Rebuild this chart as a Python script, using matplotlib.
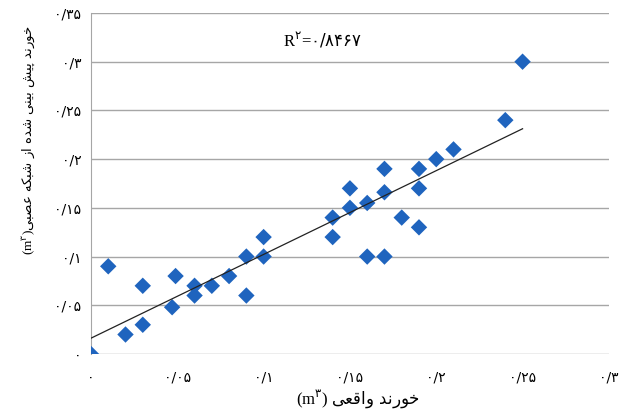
import numpy as np
import matplotlib.pyplot as plt

plt.rcParams['font.family'] = ['Liberation Serif', 'DejaVu Sans']
plt.rcParams['mathtext.fontset'] = 'custom'
plt.rcParams['mathtext.rm'] = 'DejaVu Sans'

# measured vs. predicted values (m3)
actual = [0.0, 0.01, 0.02, 0.03, 0.03, 0.047, 0.049, 0.06, 0.06, 0.07, 0.08,
          0.09, 0.09, 0.10, 0.10, 0.14, 0.14, 0.15, 0.15, 0.16, 0.16, 0.17,
          0.17, 0.17, 0.18, 0.19, 0.19, 0.19, 0.20, 0.21, 0.24, 0.25]
predicted = [0.0, 0.09, 0.02, 0.03, 0.07, 0.048, 0.08, 0.07, 0.06, 0.07, 0.08,
             0.10, 0.06, 0.10, 0.12, 0.14, 0.12, 0.17, 0.15, 0.155, 0.10, 0.166,
             0.19, 0.10, 0.14, 0.17, 0.13, 0.19, 0.20, 0.21, 0.24, 0.30]

x_ticks = [0, 0.05, 0.1, 0.15, 0.2, 0.25, 0.3]
x_ticklabels = ['۰', '۰/۰۵', '۰/۱', '۰/۱۵', '۰/۲', '۰/۲۵', '۰/۳']
y_ticks = [0, 0.05, 0.1, 0.15, 0.2, 0.25, 0.3, 0.35]
y_ticklabels = ['۰', '۰/۰۵', '۰/۱', '۰/۱۵', '۰/۲', '۰/۲۵', '۰/۳', '۰/۳۵']

x_title = 'خورند واقعی'
y_title = 'خورند پیش بینی شده از شبکه عصبی'
r2_text = '۰/۸۴۶۷'

# matplotlib has no arabic shaping, so pick contextual forms by hand
FORMS = {
    'خ': (0xFEA5, 0xFEA6, 0xFEA7, 0xFEA8),
    'ن': (0xFEE5, 0xFEE6, 0xFEE7, 0xFEE8),
    'پ': (0xFB56, 0xFB57, 0xFB58, 0xFB59),
    'ی': (0xFBFC, 0xFBFD, 0xFBFE, 0xFBFF),
    'ش': (0xFEB5, 0xFEB6, 0xFEB7, 0xFEB8),
    'ب': (0xFE8F, 0xFE90, 0xFE91, 0xFE92),
    'ه': (0xFEE9, 0xFEEA, 0xFEEB, 0xFEEC),
    'ک': (0xFB8E, 0xFB8F, 0xFB90, 0xFB91),
    'ع': (0xFEC9, 0xFECA, 0xFECB, 0xFECC),
    'ص': (0xFEB9, 0xFEBA, 0xFEBB, 0xFEBC),
    'ق': (0xFED5, 0xFED6, 0xFED7, 0xFED8),
    'و': (0xFEED, 0xFEEE),
    'ر': (0xFEAD, 0xFEAE),
    'د': (0xFEA9, 0xFEAA),
    'ا': (0xFE8D, 0xFE8E),
    'ز': (0xFEAF, 0xFEB0),
}


def shape(text):
    out = []
    for i, ch in enumerate(text):
        if ch not in FORMS:
            out.append(ch)
            continue
        prev = text[i - 1] if i > 0 else ''
        nxt = text[i + 1] if i + 1 < len(text) else ''
        joins_prev = prev in FORMS and len(FORMS[prev]) == 4
        joins_next = len(FORMS[ch]) == 4 and nxt in FORMS
        f = FORMS[ch]
        if joins_prev and joins_next:
            out.append(chr(f[3]))
        elif joins_next:
            out.append(chr(f[2]))
        elif joins_prev:
            out.append(chr(f[1]))
        else:
            out.append(chr(f[0]))
    return ''.join(reversed(out))


def persian_math(text):
    # strings with $...$ go through mathtext, so keep persian inside \mathrm
    return r'$\mathrm{' + shape(text).replace(' ', r'\ ') + '}$'


unit = r'(m$^{\mathrm{۳}}$)'

fig = plt.figure(figsize=(6.21, 4.12), dpi=100)
ax = fig.add_axes([0.1465, 0.1408, 0.834, 0.8277])

grid_color = '#a6a6a6'
ax.set_xlim(0, 0.3)
ax.set_ylim(0, 0.35)
ax.set_yticks(y_ticks)
ax.set_yticklabels(y_ticklabels, family='DejaVu Sans', fontsize=10)
ax.set_xticks(x_ticks)
ax.set_xticklabels(x_ticklabels, family='DejaVu Sans', fontsize=10)
ax.tick_params(length=0, pad=7)
ax.tick_params(axis='x', pad=12)
ax.yaxis.grid(True, color=grid_color, linewidth=1)
ax.set_axisbelow(True)
for side in ['top', 'right', 'bottom']:
    ax.spines[side].set_visible(False)
ax.spines['left'].set_color(grid_color)

ax.scatter(actual, predicted, marker='D', s=70, color='#1f64be',
           edgecolors='none', zorder=3)

# linear trend line across the data range
slope, intercept = np.polyfit(actual, predicted, 1)
xs = np.array([min(actual), max(actual)])
ax.plot(xs, slope * xs + intercept, color='#222222', linewidth=0.9, zorder=4)

ax.text(0.134, 0.322, r'R$^{\mathrm{۲}}$=$\mathrm{' + r2_text + '}$',
        fontsize=12, ha='center', va='center')

ax.set_xlabel(unit + ' ' + persian_math(x_title), fontsize=12)
ax.set_ylabel(unit + persian_math(y_title), fontsize=9.5)
ax.xaxis.set_label_coords(0.515, -0.135)
ax.yaxis.set_label_coords(-0.122, 0.628)
ax.xaxis.label.set_va('center')
ax.yaxis.label.set_va('center')

fig.savefig('out.png', dpi=100)
